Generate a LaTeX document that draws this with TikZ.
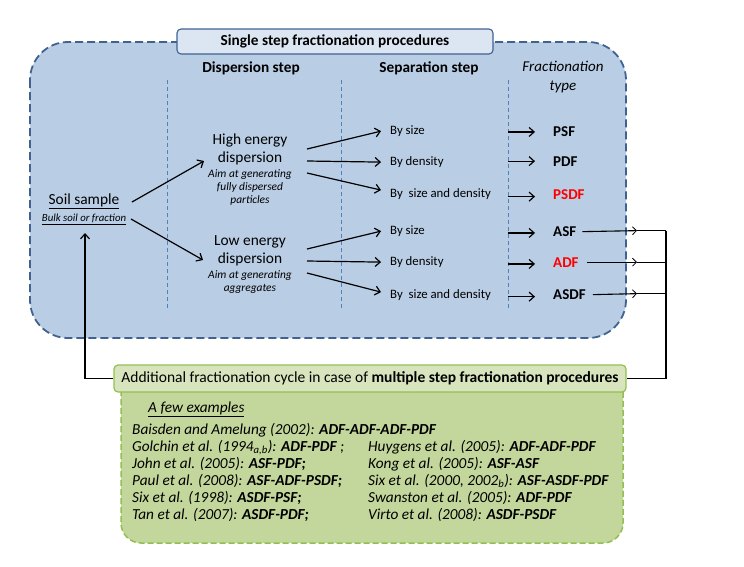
\documentclass[tikz,border=0pt]{standalone}
\usepackage{fontspec}
\setmainfont{Carlito}
\usetikzlibrary{arrows.meta}
\definecolor{blueFill}{HTML}{B9CDE5}
\definecolor{blueDark}{HTML}{3F6290}
\definecolor{titleFill}{HTML}{DCE6F2}
\definecolor{vline}{HTML}{4F81BD}
\definecolor{greenFill}{HTML}{C3D69B}
\definecolor{greenTitle}{HTML}{D7E4BD}
\definecolor{greenBorder}{HTML}{92C050}
\definecolor{redT}{HTML}{FF0000}
\newcommand\fsHead{\fontsize{15.3}{17}\selectfont\bfseries}
\newcommand\fsBig{\fontsize{15.4}{18}\selectfont}
\newcommand\fsAim{\fontsize{11.4}{13}\selectfont\itshape}
\newcommand\fsSmall{\fontsize{12.8}{14}\selectfont}
\newcommand\fsType{\fontsize{15}{17}\selectfont\bfseries}
\newcommand\fsEx{\fontsize{15.3}{17}\selectfont\itshape}
\begin{document}
\begin{tikzpicture}[x=1pt,y=-1pt,
  arr/.style={-{Straight Barb[length=5pt,width=9pt]},line width=1.2pt},
  plain/.style={line width=1.1pt},
  barb/.style={-{Straight Barb[length=4pt,width=8pt,line width=0.8pt]},line width=1.1pt},
  txt/.style={inner sep=0pt},
  seplbl/.style={inner sep=0pt,anchor=base west,font=\fsSmall},
  ftype/.style={inner sep=0pt,anchor=base west,font=\fsType},
  vdash/.style={draw=vline,line width=0.6pt,dash pattern=on 4pt off 3pt},
  exlbl/.style={inner sep=0pt,anchor=base west,font=\fsEx},
]
\path[use as bounding box] (0,0) rectangle (744,566);

% single step container
\draw[fill=blueFill,draw=blueDark,line width=1.8pt,dash pattern=on 8pt off 4pt,rounded corners=38pt]
  (30,42) rectangle (626,338);
\node[draw=blueDark,fill=titleFill,line width=1.1pt,rounded corners=4pt,minimum width=316pt,
  minimum height=25pt,inner sep=0pt,font=\fsHead] (t1) at (335,41.5) {Single step fractionation procedures};

% headers
\node[txt,font=\fsHead] (hd1) at (251,68) {Dispersion step};
\node[txt,font=\fsHead] (hd2) at (429,68) {Separation step};
\node[txt,align=center,font=\fontsize{15}{19}\selectfont\itshape] (hd3) at (563,77.5) {Fractionation\\type};

% column separators
\draw[vdash] (167,80) -- (167,310);
\draw[vdash] (341,80) -- (341,310);
\draw[vdash] (508,80) -- (508,310);

% soil sample
\node[txt,font=\fsBig] (soil) at (84,201) {\underline{Soil sample}};
\node[txt,font=\fontsize{10.8}{12}\selectfont\itshape] (bulk) at (84,219) {\underline{Bulk soil or fraction}};

% dispersion nodes
\node[txt,align=center,font=\fsBig] (high) at (250,149) {High energy\\dispersion};
\node[txt,align=center,font=\fsAim] (highsub) at (250,187) {Aim at generating\\fully dispersed\\particles};
\node[txt,align=center,font=\fsBig] (low) at (250,250.5) {Low energy\\dispersion};
\node[txt,align=center,font=\fsAim] (lowsub) at (250,282.5) {Aim at generating\\aggregates};

% separation labels
\node[seplbl] (bs1) at (390,134.5) {By size};
\node[seplbl] (bd1) at (390,165.5) {By density};
\node[seplbl] (bsd1) at (390,197.5) {By~ size and density};
\node[seplbl] (bs2) at (390,234.5) {By size};
\node[seplbl] (bd2) at (390,265.5) {By density};
\node[seplbl] (bsd2) at (390,298.5) {By~ size and density};

% fractionation types
\node[ftype] (psf) at (553,136) {PSF};
\node[ftype] (pdf) at (553,166) {PDF};
\node[ftype,text=redT] (psdf) at (553,199) {PSDF};
\node[ftype] (asf) at (553,236) {ASF};
\node[ftype,text=redT] (adf) at (553,267) {ADF};
\node[ftype] (asdf) at (553,299) {ASDF};

% coordinates for connector ends
\coordinate (sA) at (132,202);
\coordinate (sB) at (131,219);
\coordinate (hIn) at (204,161);
\coordinate (lIn) at (203,260);
\coordinate (hO1) at (307,149);
\coordinate (hO2) at (307,161);
\coordinate (hO3) at (307,173);
\coordinate (lO1) at (307,249);
\coordinate (lO2) at (307,261);
\coordinate (lO3) at (307,273);
\coordinate (bx) at (637,0);
\coordinate (jx) at (666,0);
\coordinate (fb) at (85,233);

% soil -> dispersion
\draw[arr] (sA) -- (hIn);
\draw[arr] (sB) -- (lIn);

% dispersion -> separation
\draw[arr] (hO1) -- ([xshift=-9pt]bs1.west);
\draw[arr] (hO2) -- ([xshift=-9pt]bd1.west);
\draw[arr] (hO3) -- ([shift={(-9,-4)}]bsd1.west);
\draw[arr] (lO1) -- ([xshift=-9pt]bs2.west);
\draw[arr] (lO2) -- ([xshift=-9pt]bd2.west);
\draw[arr] (lO3) -- ([shift={(-9,-3)}]bsd2.west);

% separation -> type
\foreach \n/\dy in {psf/0.8,pdf/0,psdf/2.5,asf/1.8,adf/1.8,asdf/2.5}{
  \draw[arr] ([shift={(-45,\dy)}]\n.west) -- ([shift={(-18,\dy)}]\n.west);
}

% green container
\draw[fill=greenFill,draw=greenBorder,line width=1.5pt,dash pattern=on 6pt off 3pt,rounded corners=20pt]
  (121,370) rectangle (623,543);
\node[draw=greenBorder,fill=greenTitle,line width=1.2pt,rounded corners=4pt,minimum width=512pt,
  minimum height=27pt,inner sep=0pt,font=\fontsize{15.5}{17}\selectfont] (gt) at (370,378.5)
  {Additional fractionation cycle in case of \textbf{multiple step fractionation procedures}};

% feedback connectors
\draw[barb] ([shift={(6,0.5)}]asf.east) -- ([yshift=0.5pt]asf.east -| bx);
\draw[plain] ([yshift=0.5pt]asf.east -| bx) -- ([yshift=0.5pt]asf.east -| jx);
\draw[barb] ([shift={(8,0)}]adf.east) -- (adf.east -| bx);
\draw[plain] (adf.east -| bx) -- (adf.east -| jx);
\draw[barb] ([shift={(7,0.5)}]asdf.east) -- ([yshift=0.5pt]asdf.east -| bx);
\draw[plain] ([yshift=0.5pt]asdf.east -| bx) -- ([yshift=0.5pt]asdf.east -| jx);
\draw[plain] ([yshift=0.5pt]asf.east -| jx) -- (gt.east -| jx) -- (gt.east);
\draw[arr] (gt.west) -| (fb);

% examples
\node[exlbl] (few) at (148,412) {\underline{A few examples}};
\node[exlbl] (e1) at (132,434) {Baisden and Amelung (2002): \textbf{ADF-ADF-ADF-PDF}};
\node[exlbl] (e2) at (132,451) {Golchin et al. (1994\textsubscript{a,b}): \textbf{ADF-PDF} ;};
\node[exlbl] (e3) at (132,468) {John et al. (2005): \textbf{ASF-PDF;}};
\node[exlbl] (e4) at (132,485) {Paul et al. (2008): \textbf{ASF-ADF-PSDF;}};
\node[exlbl] (e5) at (132,502) {Six et al. (1998): \textbf{ASDF-PSF;}};
\node[exlbl] (e6) at (132,519) {Tan et al. (2007): \textbf{ASDF-PDF;}};
\node[exlbl] (e7) at (368,451) {Huygens et al. (2005): \textbf{ADF-ADF-PDF}};
\node[exlbl] (e8) at (368,468) {Kong et al. (2005): \textbf{ASF-ASF}};
\node[exlbl] (e9) at (368,485) {Six et al. (2000, 2002\textsubscript{b}): \textbf{ASF-ASDF-PDF}};
\node[exlbl] (e10) at (368,502) {Swanston et al. (2005): \textbf{ADF-PDF}};
\node[exlbl] (e11) at (368,519) {Virto et al. (2008): \textbf{ASDF-PSDF}};
\end{tikzpicture}
\end{document}
